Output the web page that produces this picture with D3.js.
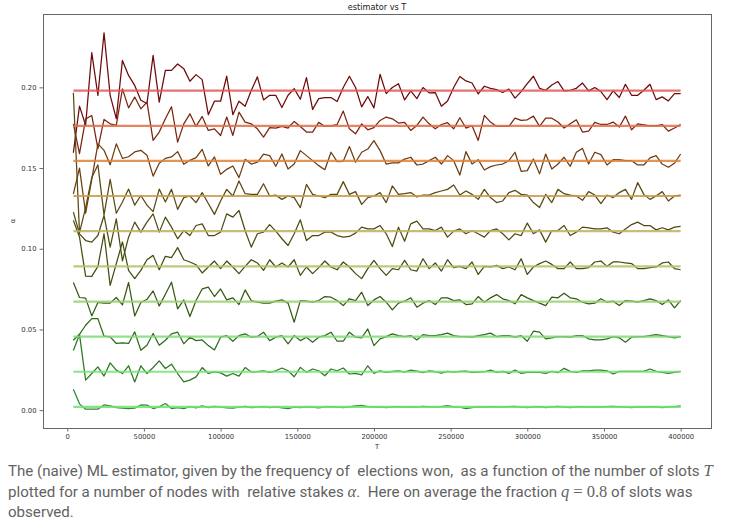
<!DOCTYPE html>
<html>
<head>
<meta charset="utf-8">
<script src="https://cdn.jsdelivr.net/npm/d3@7"></script>
<style>
	body { margin: 0; background: #fff; }
	#chart { position: absolute; left: 0; top: 0; }
	#caption {
		position: absolute; left: 8px; top: 461px; width: 724px;
		font-family: Roboto, "Liberation Sans", sans-serif; font-size: 15.1px;
		color: #626262; white-space: pre;
	}
	#caption div { height: 20.5px; line-height: 20.5px; }
	#caption .m { font-family: "Liberation Serif", "DejaVu Serif", serif; font-size: 16.5px; line-height: 1; }
	#caption .mi { font-style: italic; }
</style>
</head>
<body>
<div id="chart"></div>
<div id="caption"></div>
<script>
var WIDTH = 732;
var HEIGHT = 455;

// number of slots T (x values)
var slots = d3.range(4000, 400001, 4000);

// true relative stakes (horizontal reference lines), top to bottom
var alphas = [0.1980, 0.1762, 0.1544, 0.1327, 0.1109, 0.0891, 0.0673, 0.0456, 0.0238, 0.0020];

// ML estimates, one array per node (same order as alphas)
var est0 = [0.1595, 0.1884, 0.1765, 0.2215, 0.1950, 0.2338, 0.1950, 0.1806, 0.2167, 0.2074, 0.2012, 0.1920, 0.1900, 0.2198, 0.1909, 0.2105, 0.2105, 0.2145, 0.2116, 0.2038,
	0.2079, 0.2048, 0.1831, 0.1914, 0.1914, 0.2069, 0.1831, 0.1914, 0.1883, 0.1980, 0.2065, 0.1922, 0.1951, 0.1951, 0.1875, 0.1951, 0.1992, 0.1926, 0.2060, 0.1864,
	0.1930, 0.1937, 0.1937, 0.1912, 0.1999, 0.2069, 0.1999, 0.1879, 0.1943, 0.1873, 0.2081, 0.1961, 0.1999, 0.2023, 0.1922, 0.1978, 0.1930, 0.1999, 0.1966, 0.1968,
	0.1883, 0.1916, 0.1999, 0.2067, 0.2040, 0.2027, 0.1959, 0.2007, 0.1994, 0.1986, 0.1968, 0.1990, 0.1933, 0.1974, 0.2023, 0.2069, 0.1994, 0.1982, 0.2015, 0.2036,
	0.1978, 0.1982, 0.1994, 0.2027, 0.1978, 0.1999, 0.1974, 0.1924, 0.1978, 0.1937, 0.2019, 0.1951, 0.1951, 0.1982, 0.2019, 0.1924, 0.1941, 0.1916, 0.1961, 0.1961];
var est1 = [0.1774, 0.1589, 0.1805, 0.1826, 0.1620, 0.1801, 0.1774, 0.1764, 0.1991, 0.1873, 0.1940, 0.1867, 0.1909, 0.1671, 0.1723, 0.1805, 0.1880, 0.1661, 0.1774, 0.1836,
	0.1758, 0.1820, 0.1733, 0.1743, 0.1702, 0.1816, 0.1702, 0.1847, 0.1785, 0.1774, 0.1743, 0.1692, 0.1750, 0.1748, 0.1758, 0.1748, 0.1789, 0.1758, 0.1723, 0.1723,
	0.1783, 0.1758, 0.1762, 0.1770, 0.1853, 0.1743, 0.1712, 0.1774, 0.1737, 0.1750, 0.1795, 0.1816, 0.1805, 0.1779, 0.1783, 0.1733, 0.1764, 0.1816, 0.1774, 0.1743,
	0.1770, 0.1781, 0.1743, 0.1812, 0.1748, 0.1762, 0.1671, 0.1826, 0.1785, 0.1758, 0.1758, 0.1758, 0.1809, 0.1795, 0.1799, 0.1822, 0.1758, 0.1809, 0.1809, 0.1785,
	0.1748, 0.1774, 0.1799, 0.1723, 0.1729, 0.1783, 0.1770, 0.1770, 0.1785, 0.1754, 0.1822, 0.1737, 0.1774, 0.1768, 0.1762, 0.1762, 0.1770, 0.1729, 0.1748, 0.1770];
var est2 = [0.1340, 0.1500, 0.1220, 0.1430, 0.1650, 0.1610, 0.1520, 0.1650, 0.1560, 0.1570, 0.1600, 0.1610, 0.1580, 0.1450, 0.1530, 0.1560, 0.1569, 0.1602, 0.1523, 0.1548,
	0.1565, 0.1616, 0.1513, 0.1569, 0.1461, 0.1492, 0.1513, 0.1441, 0.1554, 0.1525, 0.1536, 0.1587, 0.1577, 0.1511, 0.1587, 0.1494, 0.1525, 0.1608, 0.1577, 0.1546,
	0.1515, 0.1490, 0.1598, 0.1540, 0.1542, 0.1633, 0.1536, 0.1598, 0.1618, 0.1670, 0.1608, 0.1525, 0.1532, 0.1532, 0.1556, 0.1567, 0.1519, 0.1525, 0.1546, 0.1567,
	0.1525, 0.1577, 0.1546, 0.1457, 0.1602, 0.1525, 0.1552, 0.1488, 0.1509, 0.1519, 0.1525, 0.1546, 0.1598, 0.1480, 0.1484, 0.1556, 0.1464, 0.1587, 0.1494, 0.1525,
	0.1567, 0.1511, 0.1598, 0.1622, 0.1525, 0.1598, 0.1583, 0.1519, 0.1552, 0.1552, 0.1546, 0.1546, 0.1519, 0.1519, 0.1563, 0.1577, 0.1525, 0.1505, 0.1530, 0.1587];
var est3 = [0.1967, 0.1100, 0.1255, 0.1440, 0.1520, 0.1210, 0.1430, 0.1220, 0.1290, 0.1370, 0.1270, 0.1330, 0.1270, 0.1230, 0.1370, 0.1290, 0.1368, 0.1244, 0.1317, 0.1327,
	0.1286, 0.1348, 0.1280, 0.1213, 0.1296, 0.1368, 0.1327, 0.1420, 0.1341, 0.1337, 0.1337, 0.1403, 0.1327, 0.1332, 0.1306, 0.1327, 0.1317, 0.1255, 0.1399, 0.1337,
	0.1327, 0.1317, 0.1337, 0.1337, 0.1416, 0.1337, 0.1354, 0.1275, 0.1317, 0.1327, 0.1348, 0.1286, 0.1389, 0.1337, 0.1341, 0.1348, 0.1321, 0.1333, 0.1333, 0.1348,
	0.1358, 0.1368, 0.1395, 0.1333, 0.1358, 0.1337, 0.1306, 0.1368, 0.1317, 0.1286, 0.1296, 0.1348, 0.1362, 0.1337, 0.1333, 0.1286, 0.1255, 0.1337, 0.1286, 0.1368,
	0.1341, 0.1333, 0.1327, 0.1300, 0.1354, 0.1333, 0.1280, 0.1333, 0.1317, 0.1348, 0.1368, 0.1306, 0.1410, 0.1337, 0.1306, 0.1327, 0.1354, 0.1296, 0.1327, 0.1333];
var est4 = [0.1227, 0.1092, 0.1051, 0.1041, 0.1082, 0.1206, 0.1010, 0.1185, 0.0925, 0.1072, 0.1165, 0.1103, 0.1165, 0.1216, 0.1103, 0.1196, 0.1134, 0.1062, 0.1113, 0.1082,
	0.1144, 0.1154, 0.1082, 0.1082, 0.1103, 0.1216, 0.1196, 0.1237, 0.1113, 0.1010, 0.1093, 0.1103, 0.1150, 0.1109, 0.1062, 0.1020, 0.1093, 0.1179, 0.1051, 0.1082,
	0.1082, 0.1103, 0.1103, 0.1082, 0.1072, 0.1076, 0.1097, 0.1134, 0.1123, 0.1123, 0.1144, 0.1093, 0.1014, 0.1134, 0.1047, 0.1154, 0.1171, 0.1123, 0.1123, 0.1113,
	0.1134, 0.1072, 0.1109, 0.1123, 0.1093, 0.1113, 0.1093, 0.1072, 0.1113, 0.1123, 0.1093, 0.1055, 0.1093, 0.1082, 0.1159, 0.1093, 0.1117, 0.1041, 0.1113, 0.1113,
	0.1144, 0.1082, 0.1103, 0.1134, 0.1130, 0.1123, 0.1123, 0.1130, 0.1103, 0.1093, 0.1123, 0.1150, 0.1165, 0.1144, 0.1144, 0.1117, 0.1130, 0.1117, 0.1134, 0.1138];
var est5 = [0.1176, 0.1073, 0.0831, 0.0829, 0.0891, 0.1093, 0.0773, 0.0908, 0.1042, 0.0866, 0.0815, 0.0866, 0.0932, 0.0959, 0.0870, 0.0953, 0.0945, 0.1007, 0.0932, 0.0918,
	0.0901, 0.0850, 0.0887, 0.0924, 0.0877, 0.0924, 0.0887, 0.0846, 0.0891, 0.0932, 0.0912, 0.0866, 0.0932, 0.0887, 0.0912, 0.0887, 0.0932, 0.0835, 0.0887, 0.0846,
	0.0883, 0.0924, 0.0887, 0.0870, 0.0918, 0.0887, 0.0846, 0.0815, 0.0877, 0.0928, 0.0877, 0.0835, 0.0877, 0.0870, 0.0928, 0.0870, 0.0862, 0.0938, 0.0877, 0.0912,
	0.0862, 0.0932, 0.0883, 0.0891, 0.0877, 0.0918, 0.0841, 0.0891, 0.0887, 0.0897, 0.0877, 0.0887, 0.0870, 0.0938, 0.0841, 0.0887, 0.0908, 0.0924, 0.0903, 0.0877,
	0.0877, 0.0918, 0.0877, 0.0877, 0.0883, 0.0918, 0.0924, 0.0891, 0.0918, 0.0918, 0.0912, 0.0908, 0.0877, 0.0877, 0.0883, 0.0887, 0.0912, 0.0918, 0.0877, 0.0870];
var est6 = [0.0791, 0.0698, 0.0694, 0.0584, 0.0667, 0.0663, 0.0663, 0.0698, 0.0652, 0.0791, 0.0584, 0.0667, 0.0687, 0.0739, 0.0646, 0.0718, 0.0793, 0.0628, 0.0683, 0.0580,
	0.0679, 0.0751, 0.0762, 0.0704, 0.0751, 0.0683, 0.0696, 0.0654, 0.0745, 0.0679, 0.0669, 0.0663, 0.0663, 0.0675, 0.0683, 0.0663, 0.0545, 0.0679, 0.0675, 0.0669,
	0.0679, 0.0704, 0.0700, 0.0679, 0.0648, 0.0690, 0.0679, 0.0731, 0.0648, 0.0683, 0.0704, 0.0669, 0.0621, 0.0663, 0.0675, 0.0696, 0.0638, 0.0663, 0.0679, 0.0654,
	0.0696, 0.0696, 0.0679, 0.0683, 0.0654, 0.0659, 0.0704, 0.0669, 0.0696, 0.0716, 0.0690, 0.0679, 0.0659, 0.0716, 0.0696, 0.0679, 0.0663, 0.0648, 0.0700, 0.0696,
	0.0725, 0.0696, 0.0690, 0.0669, 0.0659, 0.0663, 0.0690, 0.0669, 0.0675, 0.0648, 0.0679, 0.0675, 0.0669, 0.0679, 0.0690, 0.0679, 0.0654, 0.0683, 0.0634, 0.0679];
var est7 = [0.0433, 0.0470, 0.0526, 0.0567, 0.0567, 0.0458, 0.0454, 0.0413, 0.0417, 0.0413, 0.0485, 0.0371, 0.0402, 0.0475, 0.0402, 0.0433, 0.0473, 0.0483, 0.0411, 0.0452,
	0.0431, 0.0435, 0.0400, 0.0373, 0.0452, 0.0462, 0.0427, 0.0462, 0.0473, 0.0452, 0.0456, 0.0483, 0.0431, 0.0452, 0.0462, 0.0411, 0.0462, 0.0431, 0.0452, 0.0421,
	0.0452, 0.0462, 0.0483, 0.0427, 0.0427, 0.0483, 0.0452, 0.0448, 0.0503, 0.0400, 0.0442, 0.0456, 0.0473, 0.0462, 0.0456, 0.0462, 0.0435, 0.0468, 0.0462, 0.0462,
	0.0468, 0.0477, 0.0462, 0.0456, 0.0456, 0.0452, 0.0462, 0.0468, 0.0477, 0.0456, 0.0462, 0.0462, 0.0452, 0.0462, 0.0427, 0.0489, 0.0483, 0.0442, 0.0448, 0.0456,
	0.0456, 0.0452, 0.0462, 0.0462, 0.0442, 0.0435, 0.0435, 0.0442, 0.0456, 0.0448, 0.0421, 0.0452, 0.0456, 0.0456, 0.0462, 0.0468, 0.0462, 0.0456, 0.0448, 0.0456];
var est8 = [0.0370, 0.0469, 0.0186, 0.0227, 0.0268, 0.0211, 0.0293, 0.0248, 0.0227, 0.0275, 0.0175, 0.0275, 0.0227, 0.0264, 0.0305, 0.0258, 0.0285, 0.0227, 0.0175, 0.0186,
	0.0206, 0.0264, 0.0227, 0.0237, 0.0231, 0.0211, 0.0227, 0.0211, 0.0264, 0.0237, 0.0238, 0.0244, 0.0234, 0.0244, 0.0261, 0.0244, 0.0207, 0.0265, 0.0234, 0.0255,
	0.0244, 0.0213, 0.0255, 0.0244, 0.0261, 0.0224, 0.0228, 0.0219, 0.0275, 0.0228, 0.0244, 0.0234, 0.0240, 0.0244, 0.0236, 0.0248, 0.0242, 0.0232, 0.0244, 0.0238,
	0.0230, 0.0240, 0.0236, 0.0240, 0.0242, 0.0234, 0.0236, 0.0238, 0.0248, 0.0234, 0.0240, 0.0228, 0.0248, 0.0228, 0.0234, 0.0234, 0.0234, 0.0228, 0.0240, 0.0232,
	0.0259, 0.0240, 0.0234, 0.0244, 0.0244, 0.0248, 0.0248, 0.0244, 0.0224, 0.0240, 0.0240, 0.0240, 0.0240, 0.0240, 0.0255, 0.0240, 0.0234, 0.0228, 0.0234, 0.0240];
var est9 = [0.0129, 0.0039, 0.0006, 0.0006, 0.0006, 0.0032, 0.0026, 0.0016, 0.0012, 0.0010, 0.0012, 0.0032, 0.0031, 0.0010, 0.0020, 0.0041, 0.0010, 0.0016, 0.0010, 0.0022,
	0.0014, 0.0026, 0.0016, 0.0024, 0.0018, 0.0014, 0.0012, 0.0018, 0.0024, 0.0016, 0.0018, 0.0022, 0.0016, 0.0020, 0.0014, 0.0010, 0.0018, 0.0016, 0.0020, 0.0018,
	0.0014, 0.0020, 0.0022, 0.0018, 0.0016, 0.0020, 0.0026, 0.0030, 0.0022, 0.0018, 0.0020, 0.0016, 0.0020, 0.0022, 0.0018, 0.0020, 0.0018, 0.0024, 0.0020, 0.0018,
	0.0022, 0.0028, 0.0020, 0.0018, 0.0010, 0.0016, 0.0020, 0.0018, 0.0022, 0.0020, 0.0018, 0.0022, 0.0024, 0.0018, 0.0016, 0.0020, 0.0022, 0.0016, 0.0020, 0.0024,
	0.0018, 0.0016, 0.0020, 0.0022, 0.0018, 0.0020, 0.0018, 0.0022, 0.0024, 0.0020, 0.0018, 0.0016, 0.0020, 0.0018, 0.0022, 0.0020, 0.0016, 0.0020, 0.0022, 0.0026];
var estimates = [est0, est1, est2, est3, est4, est5, est6, est7, est8, est9];

var xTicks = [0, 50000, 100000, 150000, 200000, 250000, 300000, 350000, 400000];
var yTicks = [0.00, 0.05, 0.10, 0.15, 0.20];

// colours: light for true stake, dark for estimate (red -> green)
var TRUE_COLOURS = ["#e05858", "#e06e48", "#dc823a", "#c99a46", "#bfb062", "#b3c068", "#98d070", "#80da78", "#76e076", "#70e070"];
var EST_COLOURS = ["#6e0a0a", "#7a2410", "#6e3c10", "#5c4812", "#4c4c10", "#404f10", "#345a14", "#2c6a1a", "#2a7a22", "#2e8a2a"];

var margin = {left: 43, right: 21, top: 14, bottom: 27};
var plotW = WIDTH - margin.left - margin.right;
var plotH = 428 - margin.top;

var svg = d3.select('#chart').append('svg')
	.attr('width', WIDTH).attr('height', HEIGHT);

// matplotlib style 5% margins on the data range
var xMin = d3.min(slots), xMax = d3.max(slots);
var xPad = (xMax - xMin) * 0.05;
var allY = d3.merge(estimates);
var yMin = d3.min(allY), yMax = d3.max(allY);
var yPad = (yMax - yMin) * 0.05;

var x = d3.scaleLinear().domain([xMin - xPad, xMax + xPad]).range([0, plotW]);
var y = d3.scaleLinear().domain([yMin - yPad, yMax + yPad]).range([plotH, 0]);

var chartArea = svg.append('g').attr('transform', 'translate(' + margin.left + ',' + margin.top + ')');

var line = d3.line()
	.x(function(d, i) { return x(slots[i]); })
	.y(function(d) { return y(d); });

// estimator lines first, true stakes drawn over them
for(let i = 0; i < estimates.length; i++) {
	chartArea.append('path')
		.datum(estimates[i])
		.attr('d', line)
		.attr('fill', 'none')
		.attr('stroke', EST_COLOURS[i])
		.attr('stroke-width', 1.25)
		.attr('stroke-linejoin', 'round');
}
for(let i = 0; i < alphas.length; i++) {
	chartArea.append('line')
		.attr('x1', x(xMin)).attr('x2', x(xMax))
		.attr('y1', y(alphas[i])).attr('y2', y(alphas[i]))
		.attr('stroke', TRUE_COLOURS[i])
		.attr('stroke-opacity', 0.85)
		.attr('stroke-width', 2.2);
}

// axes
var xAxis = chartArea.append('g').attr('transform', 'translate(0,' + plotH + ')')
	.call(d3.axisBottom(x).tickValues(xTicks).tickFormat(d3.format('d')).tickSize(3.5).tickPadding(3));
var yAxis = chartArea.append('g')
	.call(d3.axisLeft(y).tickValues(yTicks).tickFormat(d3.format('.2f')).tickSize(3.5).tickPadding(3));
[xAxis, yAxis].forEach(function(a) {
	a.selectAll('path').remove();
	a.selectAll('.tick line').attr('stroke', '#444').attr('stroke-width', 0.8);
	a.selectAll('text').attr('font-family', '"DejaVu Sans", sans-serif')
		.attr('font-size', 6.8).attr('fill', '#333');
});

// frame
chartArea.append('rect')
	.attr('width', plotW).attr('height', plotH)
	.attr('fill', 'none').attr('stroke', '#666').attr('stroke-width', 1)
	.attr('shape-rendering', 'crispEdges');

svg.append('text')
	.attr('x', margin.left + plotW / 2).attr('y', 10)
	.attr('text-anchor', 'middle')
	.attr('font-family', '"DejaVu Sans", sans-serif').attr('font-size', 8.2).attr('fill', '#222')
	.text('estimator vs T');
svg.append('text')
	.attr('x', margin.left + plotW / 2).attr('y', 449)
	.attr('text-anchor', 'middle')
	.attr('font-family', '"DejaVu Sans", sans-serif').attr('font-size', 6.8).attr('fill', '#333')
	.text('T');
svg.append('text')
	.attr('transform', 'translate(15,' + (margin.top + plotH / 2) + ') rotate(-90)')
	.attr('text-anchor', 'middle')
	.attr('font-family', '"DejaVu Sans", sans-serif').attr('font-size', 6.8).attr('fill', '#333')
	.text('α');

// caption, one div per line as in the reference
var captionLines = [
	'The (naive) ML estimator, given by the frequency of  elections won,  as a function of the number of slots <span class="m mi">T</span>',
	'plotted for a number of nodes with  relative stakes <span class="m mi">α</span>.  Here on average the fraction <span class="m"><span class="mi">q</span> = 0.8</span> of slots was',
	'observed.'
];
d3.select('#caption').selectAll('div').data(captionLines).enter()
	.append('div').html(function(d) { return d; });
</script>
</body>
</html>
